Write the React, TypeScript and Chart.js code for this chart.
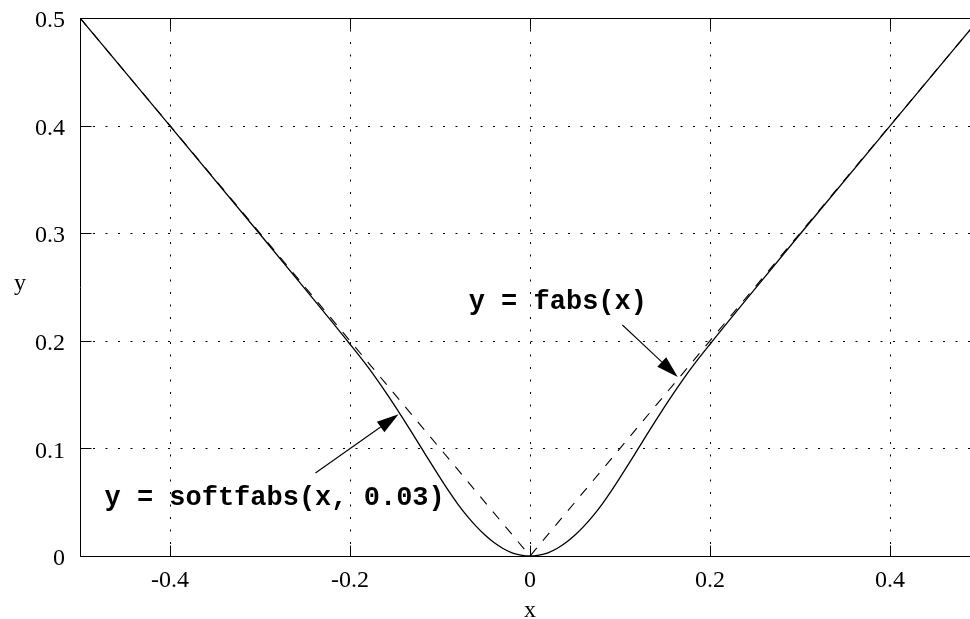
import { useEffect, useRef } from "react";
import { Chart, registerables } from "chart.js";

Chart.register(...registerables);

// Axis ticks and their labels
const X_TICKS = [-0.4, -0.2, 0, 0.2, 0.4];
const X_TICK_LABELS = ["-0.4", "-0.2", "0", "0.2", "0.4"];
const Y_TICKS = [0, 0.1, 0.2, 0.3, 0.4, 0.5];
const Y_TICK_LABELS = ["0", "0.1", "0.2", "0.3", "0.4", "0.5"];

// y = fabs(x)
const FABS_X = [-0.5, 0, 0.5];
const FABS_Y = [0.5, 0, 0.5];

// y = softfabs(x, 0.03)
const SOFT_X = [
  -0.5, -0.4, -0.3, -0.25, -0.2, -0.18, -0.17, -0.16, -0.15, -0.14, -0.13, -0.12, -0.11,
  -0.1, -0.09, -0.08, -0.07, -0.06, -0.05, -0.04, -0.03, -0.02, -0.01, 0,
  0.01, 0.02, 0.03, 0.04, 0.05, 0.06, 0.07, 0.08, 0.09, 0.1, 0.11, 0.12, 0.13, 0.14,
  0.15, 0.16, 0.17, 0.18, 0.2, 0.25, 0.3, 0.4, 0.5,
];
const SOFT_Y = [
  0.5, 0.3997, 0.299, 0.2482, 0.1968, 0.1755, 0.164, 0.1519, 0.1393, 0.1263, 0.113, 0.0995, 0.086,
  0.0728, 0.06, 0.048, 0.0373, 0.0278, 0.0195, 0.0125, 0.007, 0.003, 0.0008, 0,
  0.0008, 0.003, 0.007, 0.0125, 0.0195, 0.0278, 0.0373, 0.048, 0.06, 0.0728, 0.086, 0.0995, 0.113, 0.1263,
  0.1393, 0.1519, 0.164, 0.1755, 0.1968, 0.2482, 0.299, 0.3997, 0.5,
];

// Curve labels with their arrows (data coordinates)
const LABEL_SOFT = "y = softfabs(x, 0.03)";
const LABEL_SOFT_AT = [-0.4728, 0.0474];
const ARROW_SOFT = [-0.2384, 0.0771, -0.146, 0.1317];
const LABEL_FABS = "y = fabs(x)";
const LABEL_FABS_AT = [-0.0681, 0.2296];
const ARROW_FABS = [0.1027, 0.2147, 0.1642, 0.1664];

const SERIF = '"Liberation Serif", "Times New Roman", serif';
const MONO = '"Liberation Mono", "Courier New", monospace';

const framePlugin = {
  id: "gnuFrame",
  beforeDatasetsDraw(chart: any) {
    const { ctx, chartArea: a, scales } = chart;
    const xs = scales.x;
    const ys = scales.y;
    const L = Math.round(a.left) + 0.5;
    const R = Math.round(a.right) + 0.5;
    const T = Math.round(a.top) + 0.5;
    const B = Math.round(a.bottom) + 0.5;
    const tick = 11;
    ctx.save();
    ctx.strokeStyle = "#000";
    ctx.lineWidth = 1;

    // dotted grid
    ctx.setLineDash([2, 10.5]);
    for (const v of X_TICKS) {
      const px = Math.round(xs.getPixelForValue(v)) + 0.5;
      ctx.beginPath();
      ctx.moveTo(px, B);
      ctx.lineTo(px, T);
      ctx.stroke();
    }
    for (const v of Y_TICKS) {
      const py = Math.round(ys.getPixelForValue(v)) + 0.5;
      ctx.beginPath();
      ctx.moveTo(L, py);
      ctx.lineTo(R, py);
      ctx.stroke();
    }
    ctx.setLineDash([]);

    // frame
    ctx.beginPath();
    ctx.moveTo(L, T);
    ctx.lineTo(R, T);
    ctx.lineTo(R, B);
    ctx.lineTo(L, B);
    ctx.closePath();
    ctx.stroke();

    // inward tick marks, mirrored on the opposite side
    ctx.beginPath();
    for (const v of X_TICKS) {
      const px = Math.round(xs.getPixelForValue(v)) + 0.5;
      ctx.moveTo(px, B);
      ctx.lineTo(px, B - tick);
      ctx.moveTo(px, T);
      ctx.lineTo(px, T + tick);
    }
    for (const v of Y_TICKS) {
      const py = Math.round(ys.getPixelForValue(v)) + 0.5;
      ctx.moveTo(L, py);
      ctx.lineTo(L + tick, py);
      ctx.moveTo(R, py);
      ctx.lineTo(R - tick, py);
    }
    ctx.stroke();
    ctx.restore();
  },
  afterDatasetsDraw(chart: any) {
    const { ctx, scales } = chart;
    const xs = scales.x;
    const ys = scales.y;
    const px = (v: number) => xs.getPixelForValue(v);
    const py = (v: number) => ys.getPixelForValue(v);

    const arrow = (seg: number[]) => {
      const x0 = px(seg[0]);
      const y0 = py(seg[1]);
      const x1 = px(seg[2]);
      const y1 = py(seg[3]);
      const ang = Math.atan2(y1 - y0, x1 - x0);
      const len = 22;
      const half = 6.5;
      const bx = x1 - len * Math.cos(ang);
      const by = y1 - len * Math.sin(ang);
      ctx.beginPath();
      ctx.moveTo(x0, y0);
      ctx.lineTo(bx, by);
      ctx.stroke();
      ctx.beginPath();
      ctx.moveTo(x1, y1);
      ctx.lineTo(bx + half * Math.sin(ang), by - half * Math.cos(ang));
      ctx.lineTo(bx - half * Math.sin(ang), by + half * Math.cos(ang));
      ctx.closePath();
      ctx.fill();
    };

    ctx.save();
    ctx.strokeStyle = "#000";
    ctx.fillStyle = "#000";
    ctx.lineWidth = 1.1;
    arrow(ARROW_SOFT);
    arrow(ARROW_FABS);

    ctx.font = `bold 27px ${MONO}`;
    ctx.textAlign = "left";
    ctx.textBaseline = "alphabetic";
    ctx.fillText(LABEL_SOFT, px(LABEL_SOFT_AT[0]), py(LABEL_SOFT_AT[1]));
    ctx.fillText(LABEL_FABS, px(LABEL_FABS_AT[0]), py(LABEL_FABS_AT[1]));

    // axis titles
    ctx.font = `24px ${SERIF}`;
    ctx.textAlign = "center";
    ctx.fillText("x", px(0), 617);
    ctx.fillText("y", 20, 290);
    ctx.restore();
  },
};

// keep axis label overhang from shifting the plot frame
const noOverhang = (s: any) => {
  s.paddingTop = 0;
  s.paddingBottom = 0;
  s.paddingLeft = 0;
  s.paddingRight = 0;
};

export default function App() {
  const ref = useRef<HTMLCanvasElement | null>(null);

  useEffect(() => {
    if (!ref.current) return;
    const chart = new Chart(ref.current, {
      type: "line",
      data: {
        datasets: [
          {
            label: "softfabs",
            data: SOFT_X.map((x, i) => ({ x, y: SOFT_Y[i] })),
            borderColor: "#000",
            borderWidth: 1.3,
            pointRadius: 0,
            cubicInterpolationMode: "monotone",
            fill: false,
          },
          {
            label: "fabs",
            data: FABS_X.map((x, i) => ({ x, y: FABS_Y[i] })),
            borderColor: "#000",
            borderWidth: 1.1,
            borderDash: [10, 9.5],
            pointRadius: 0,
            tension: 0,
            fill: false,
          },
        ],
      },
      options: {
        responsive: false,
        animation: false,
        devicePixelRatio: 1,
        layout: { padding: { left: 0, right: 20, top: 18, bottom: 0 } },
        plugins: {
          legend: { display: false },
          tooltip: { enabled: false },
        },
        scales: {
          x: {
            type: "linear",
            min: -0.5,
            max: 0.5,
            afterBuildTicks: (s: any) => {
              s.ticks = X_TICKS.map((value) => ({ value }));
            },
            afterFit: (s: any) => {
              s.height = 63;
              noOverhang(s);
            },
            grid: { display: false, drawTicks: false },
            border: { display: false },
            ticks: {
              padding: 10,
              maxRotation: 0,
              autoSkip: false,
              color: "#000",
              font: { family: SERIF, size: 24 },
              callback: (_v: any, i: number) => X_TICK_LABELS[i],
            },
          },
          y: {
            type: "linear",
            min: 0,
            max: 0.5,
            afterBuildTicks: (s: any) => {
              s.ticks = Y_TICKS.map((value) => ({ value }));
            },
            afterFit: (s: any) => {
              s.width = 80;
              noOverhang(s);
            },
            grid: { display: false, drawTicks: false },
            border: { display: false },
            ticks: {
              padding: 15,
              labelOffset: 3,
              autoSkip: false,
              color: "#000",
              font: { family: SERIF, size: 24 },
              callback: (_v: any, i: number) => Y_TICK_LABELS[i],
            },
          },
        },
      },
      plugins: [framePlugin],
    } as any);
    return () => chart.destroy();
  }, []);

  return (
    <div
      style={{
        position: "fixed",
        left: 0,
        top: 0,
        width: 970,
        height: 619,
        overflow: "hidden",
        background: "#fff",
      }}
    >
      <canvas ref={ref} width={1000} height={619} style={{ display: "block" }} />
    </div>
  );
}
